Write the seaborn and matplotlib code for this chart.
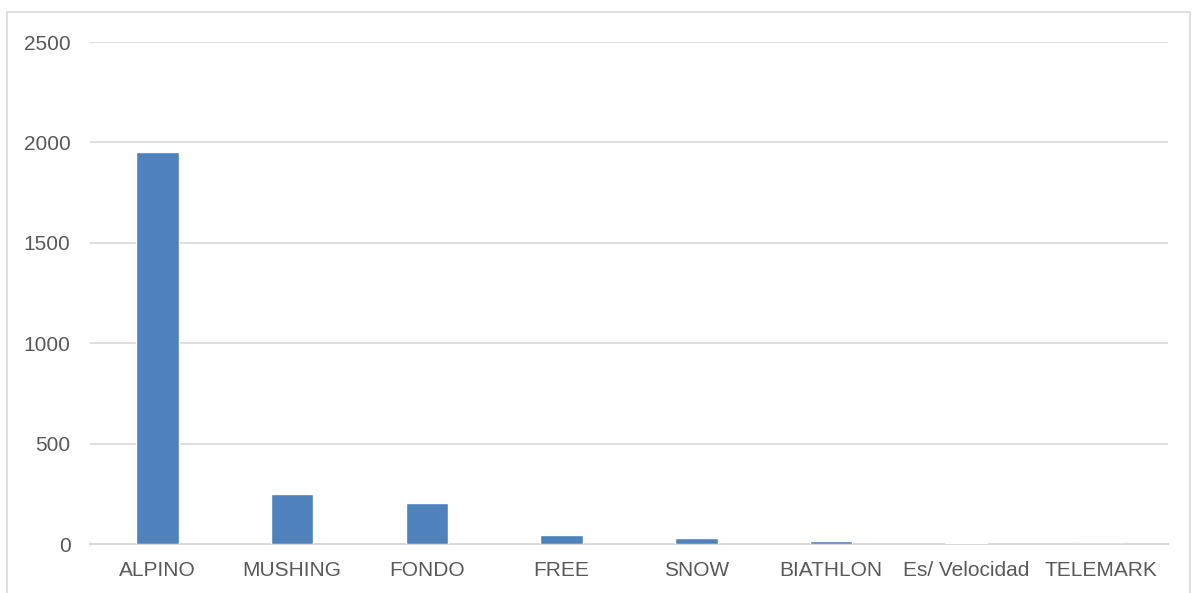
import matplotlib
matplotlib.use("Agg")
import matplotlib.pyplot as plt
import seaborn as sns
import pandas as pd
from matplotlib.patches import Rectangle

categorias = ["ALPINO", "MUSHING", "FONDO", "FREE", "SNOW", "BIATHLON", "Es/ Velocidad", "TELEMARK"]
valores = [1950, 250, 205, 43, 28, 17, 5, 1]
yticks = [0, 500, 1000, 1500, 2000, 2500]

df = pd.DataFrame({"categoria": categorias, "valor": valores})

sns.set_style("white")
plt.rcParams["font.family"] = ["Liberation Sans", "DejaVu Sans"]

fig = plt.figure(figsize=(11.95, 5.93), dpi=100)
ax = fig.add_axes([90 / 1195, 1 - 544 / 593, (1168 - 90) / 1195, (544 - 42) / 593])

sns.barplot(data=df, x="categoria", y="valor", color="#4F81BD", saturation=1,
            width=0.315, ax=ax, zorder=3)

ax.set_ylim(0, 2500)
ax.set_xlim(-0.5, len(categorias) - 0.5)
ax.set_yticks(yticks)
ax.set_yticklabels([str(t) for t in yticks])
ax.yaxis.grid(True, color="#D9D9D9", linewidth=1.2, zorder=0)
ax.set_axisbelow(True)
ax.set_xlabel("")
ax.set_ylabel("")
for s in ["left", "right", "top"]:
    ax.spines[s].set_visible(False)
ax.spines["bottom"].set_color("#D9D9D9")
ax.spines["bottom"].set_linewidth(1.5)
ax.tick_params(axis="both", length=0, labelsize=15, colors="#595959")
ax.tick_params(axis="y", pad=14)
ax.tick_params(axis="x", pad=12.5)

# borde exterior del gráfico
fig.patches.append(Rectangle((7 / 1195, -0.05), (1190 - 7) / 1195, 1 - 12 / 593 + 0.05,
                             transform=fig.transFigure, fill=False,
                             edgecolor="#D9D9D9", linewidth=1.2))

fig.savefig("out.png", dpi=100)
